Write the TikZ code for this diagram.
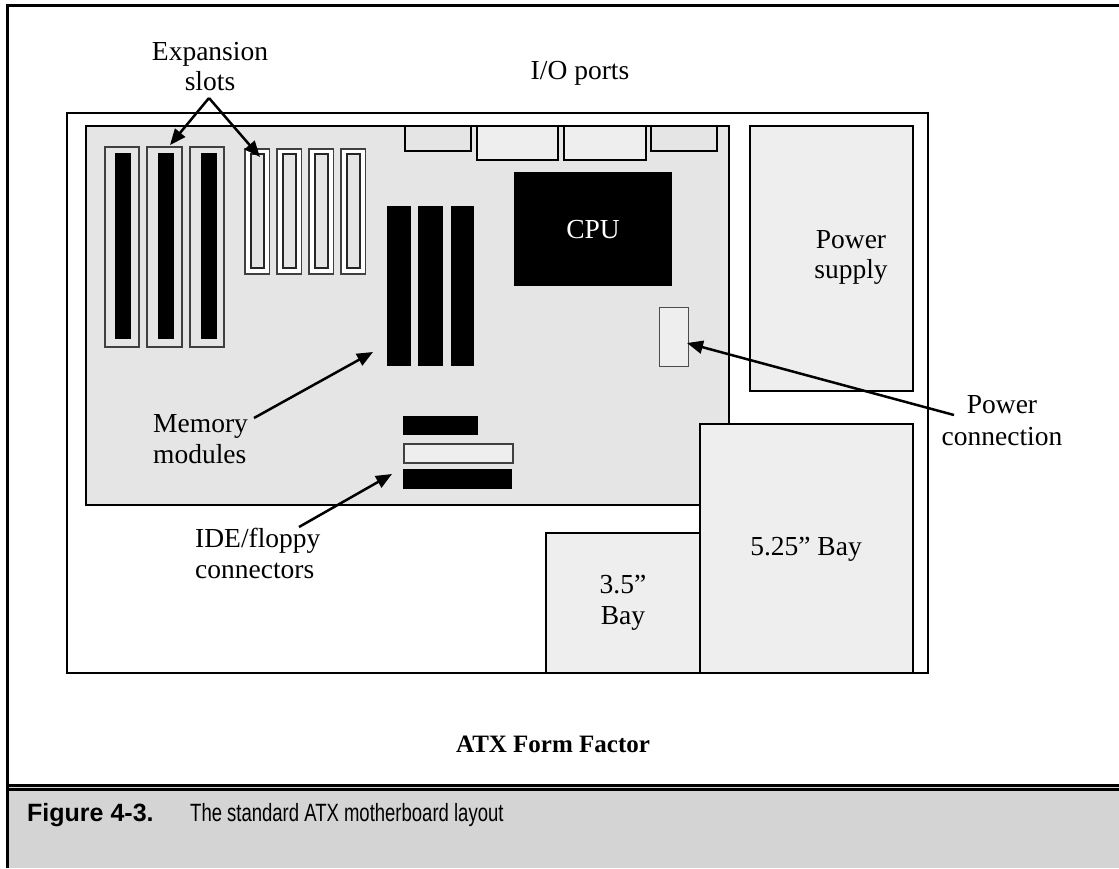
\documentclass[tikz,border=0pt]{standalone}
\usepackage{fontspec}
\setmainfont{Liberation Serif}
\newfontfamily\capsans{Liberation Sans}
\newfontfamily\capnarrow[FakeStretch=0.74]{Liberation Sans}
\usetikzlibrary{arrows.meta}
\definecolor{boardgray}{gray}{0.90}
\definecolor{lightgray}{gray}{0.933}
\definecolor{bandgray}{gray}{0.83}
\begin{document}
\begin{tikzpicture}[x=1pt,y=-1pt,
  lbl/.style={inner sep=0pt,font=\fontsize{27.5}{30}\selectfont},
  arr/.style={line width=2.5pt,-{Triangle[length=16pt,width=13pt]}},
  isaslot/.style={fill=boardgray,draw=black!75,line width=1.2pt},
  pcislot/.style={fill=white,draw=black!75,line width=1.2pt},
  pciinner/.style={fill=boardgray,draw=black!85,line width=1.2pt},
  blk/.style={fill=black},
  port/.style={draw=black,line width=2pt},
  bay/.style={fill=lightgray,draw=black,line width=2.5pt}]
\useasboundingbox (0,0) rectangle (1119,868);
\fill[white] (0,0) rectangle (1119,868);
% caption band and frame
\fill[bandgray] (7,788) rectangle (1119,868);
\fill[black] (7,784) rectangle (1119,790.5);
\draw[bandgray,line width=0.9pt] (7,787.3) -- (1119,787.3);
\draw[line width=3pt,line join=miter] (1119,5) -- (7,5) -- (7,868);
% case
\draw[fill=white,line width=2pt] (67,113) rectangle (928,673);
% board
\draw[fill=boardgray,line width=2pt] (86,126) rectangle (729,505);
% I/O ports
\draw[port,fill=boardgray] (405,126) rectangle (471,151);
\draw[port,fill=lightgray] (477,126) rectangle (558,160);
\draw[port,fill=lightgray] (564,126) rectangle (646,160);
\draw[port,fill=boardgray] (651,126) rectangle (717,151);
% ISA slots
\foreach \a/\b/\c/\d in {105/139/115/131,147/182/158/174,190/224/201/217}{
  \draw[isaslot] (\a,147) rectangle (\b,347);
  \fill[blk] (\c,153) rectangle (\d,339);
}
% PCI slots
\foreach \a in {245,277,309,341}{
  \draw[pcislot] (\a,149) rectangle ({\a+24.5},274);
  \draw[pciinner] ({\a+6},154) rectangle ({\a+19},268);
}
% memory modules
\fill[blk] (387,206) rectangle (411,366);
\fill[blk] (418,206) rectangle (443,366);
\fill[blk] (451,206) rectangle (474,366);
% CPU
\fill[blk] (514,172) rectangle (672,286);
\node[lbl,anchor=base,text=white] (cpu) at (593,238) {CPU};
% power connector
\draw[fill=lightgray,draw=black!70,line width=1pt] (659,307) rectangle (688,366);
% IDE / floppy connectors
\fill[blk] (403,416) rectangle (478,435);
\draw[fill=lightgray,draw=black!75,line width=1.2pt] (404,444) rectangle (513,463);
\fill[blk] (403,469) rectangle (512,489);
% power supply
\draw[bay] (750,126) rectangle (913,391);
\node[lbl,anchor=base] (ps1) at (851,248) {Power};
\node[lbl,anchor=base] (ps2) at (851,278) {supply};
% bays
\draw[bay] (700,424) rectangle (913,673);
\draw[bay] (546,533) rectangle (700,673);
\node[lbl,anchor=base] (b5) at (806,555) {5.25” Bay};
\node[lbl,anchor=base] (b3a) at (623,593) {3.5”};
\node[lbl,anchor=base] (b3b) at (623,624) {Bay};
% labels
\node[lbl,anchor=base] (exp1) at (210,60) {Expansion};
\node[lbl,anchor=base] (exp2) at (210,90) {slots};
\node[lbl,anchor=base] (io) at (580,79) {I/O ports};
\node[lbl,anchor=base west] (mem1) at (153,432) {Memory};
\node[lbl,anchor=base west] (mem2) at (153,463) {modules};
\node[lbl,anchor=base west] (ide1) at (195,547) {IDE/floppy};
\node[lbl,anchor=base west] (ide2) at (195,578) {connectors};
\node[lbl,anchor=base] (pc1) at (1002,413) {Power};
\node[lbl,anchor=base] (pc2) at (1002,445) {connection};
\node[inner sep=0pt,anchor=base,font=\bfseries\fontsize{25}{30}\selectfont] (atx) at (553,752) {ATX Form Factor};
% arrow coordinates
\coordinate (expS) at (209,98);
\coordinate (expT1) at (170,145);
\coordinate (expT2) at (260,157);
\coordinate (memS) at (254,418);
\coordinate (memT) at (373,352);
\coordinate (ideS) at (299,527);
\coordinate (ideT) at (392,474);
\coordinate (pcS) at (954,415);
\coordinate (pcT) at (687,343);
\draw[arr] (expS) -- (expT1);
\draw[arr] (expS) -- (expT2);
\draw[arr] (memS) -- (memT);
\draw[arr] (ideS) -- (ideT);
\draw[arr] (pcS) -- (pcT);
% caption
\node[anchor=base west,inner sep=0pt,font=\capsans\bfseries\fontsize{25}{30}\selectfont] (fig) at (27,821) {Figure 4-3.};
\node[anchor=base west,inner sep=0pt,font=\capnarrow\fontsize{25}{30}\selectfont] (captxt) at (190,821) {The standard ATX motherboard layout};
\end{tikzpicture}
\end{document}
